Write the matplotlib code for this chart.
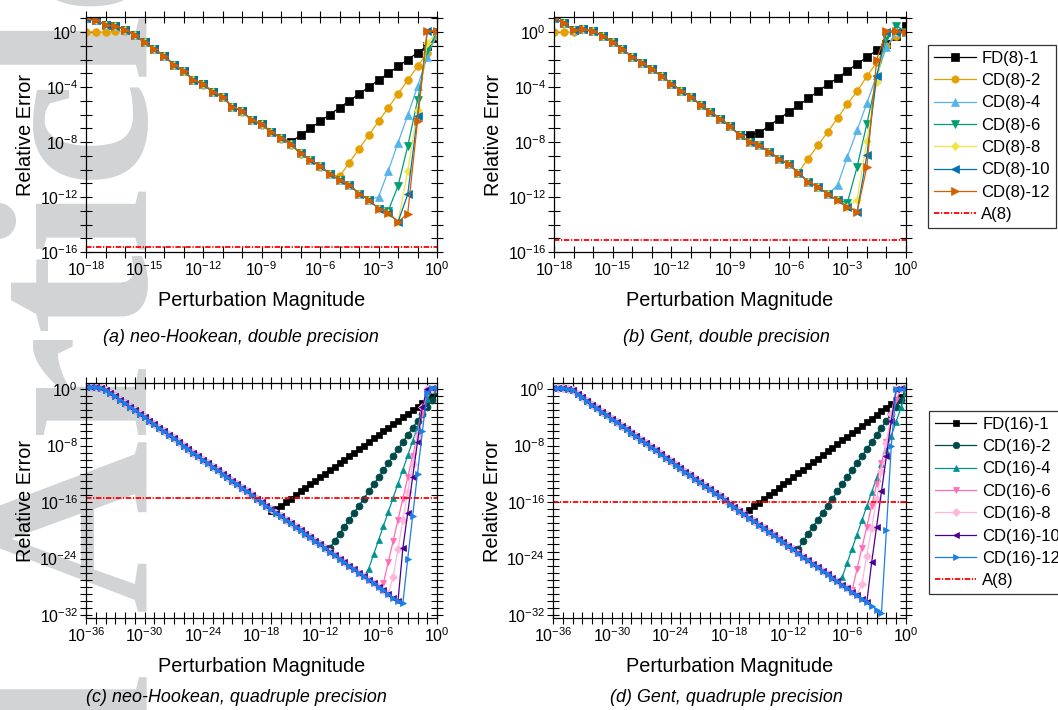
import matplotlib
matplotlib.use("Agg")
import matplotlib.pyplot as plt
from matplotlib.ticker import FixedLocator, FuncFormatter, NullLocator
import math

plt.rcParams['font.family'] = ['Liberation Sans', 'DejaVu Sans']
plt.rcParams['mathtext.default'] = 'regular'

# log10 of the perturbation magnitude
H_DBL = [-18.0, -17.5, -17.0, -16.5, -16.0, -15.5, -15.0, -14.5, -14.0, -13.5,
         -13.0, -12.5, -12.0, -11.5, -11.0, -10.5, -10.0, -9.5, -9.0, -8.5,
         -8.0, -7.5, -7.0, -6.5, -6.0, -5.5, -5.0, -4.5, -4.0, -3.5,
         -3.0, -2.5, -2.0, -1.5, -1.0, -0.5, 0.0]
H_QUAD = [-36.0, -35.5, -35.0, -34.5, -34.0, -33.5, -33.0, -32.5, -32.0, -31.5,
          -31.0, -30.5, -30.0, -29.5, -29.0, -28.5, -28.0, -27.5, -27.0, -26.5,
          -26.0, -25.5, -25.0, -24.5, -24.0, -23.5, -23.0, -22.5, -22.0, -21.5,
          -21.0, -20.5, -20.0, -19.5, -19.0, -18.5, -18.0, -17.5, -17.0, -16.5,
          -16.0, -15.5, -15.0, -14.5, -14.0, -13.5, -13.0, -12.5, -12.0, -11.5,
          -11.0, -10.5, -10.0, -9.5, -9.0, -8.5, -8.0, -7.5, -7.0, -6.5,
          -6.0, -5.5, -5.0, -4.5, -4.0, -3.5, -3.0, -2.5, -2.0, -1.5,
          -1.0, -0.5, 0.0]

# log10 of the relative error. Each *_BASE list is the highest-order scheme
# (whole curve); the other schemes share its round-off branch and only their
# own right-hand tail is listed.
NH_D_BASE = [1.0, 0.85, 0.54, 0.41, 0.17, -0.19, -0.75, -1.24, -1.72, -2.38,
             -2.82, -3.47, -3.8, -4.33, -4.7, -5.43, -5.74, -6.4, -6.7, -7.25,
             -7.7, -8.15, -8.83, -9.27, -9.76, -10.29, -10.78, -11.1, -11.75, -12.19,
             -12.85, -13.14, -13.82, -13.2, -6.5, 0.1, 0.1]
NH_D_FD = [-8.0, -7.5, -7.0, -6.5, -6.0, -5.5, -5.0, -4.5, -4.0, -3.5,
           -3.0, -2.5, -2.0, -1.5, -1.0, -0.45]
NH_D_CD2 = [0.0, 0.0, 0.0, 0.05, 0.1, -0.2, -0.75, -1.25, -1.75, -2.4,
            -2.85, -3.5, -3.85, -4.35, -4.75, -5.45, -5.8, -6.4, -6.75, -7.3,
            -7.75, -8.2, -8.85, -9.3, -9.8, -10.3, -10.5, -9.5, -8.5, -7.5,
            -6.5, -5.5, -4.5, -3.5, -2.5, -1.5, -0.3]
NH_D_CD4 = [-12.0, -10.1, -8.05, -6.05, -3.95, -1.8, -0.1]
NH_D_CD6 = [-13.0, -11.2, -8.3, -4.96, -1.3, 0.0]
NH_D_CD8 = [-10.1, -5.7, -0.8, 0.0]
NH_D_CD10 = [-11.8, -6.1, 0.1, 0.05]
NH_D_A8 = -15.6

GT_D_BASE = [1.0, 0.65, 0.15, 0.2, 0.05, -0.25, -0.75, -1.25, -1.8, -2.25,
             -2.7, -3.2, -3.75, -4.25, -4.7, -5.3, -5.8, -6.3, -6.84, -7.5,
             -7.99, -8.23, -8.72, -9.2, -9.61, -10.22, -10.9, -11.26, -11.79, -12.23,
             -12.7, -13.07, -9.8, -2.0, 0.07, 0.07, 0.0]
GT_D_FD = [-7.45, -7.34, -6.8, -6.32, -5.81, -5.33, -4.82, -4.31, -3.8, -3.34,
           -2.81, -2.32, -1.82, -1.33, -0.85, -0.3, 0.48]
GT_D_CD2 = [0.0, 0.0, 0.0, 0.2, 0.05, -0.25, -0.75, -1.25, -1.8, -2.25,
            -2.7, -3.2, -3.75, -4.25, -4.7, -5.3, -5.8, -6.3, -6.84, -7.5,
            -7.99, -8.23, -8.72, -9.2, -9.61, -10.22, -9.2, -8.23, -7.26, -6.25,
            -5.25, -4.29, -3.22, -2.2, -1.04, -0.25, 0.0]
GT_D_CD4 = [-11.14, -9.08, -7.14, -5.16, -3.15, -1.1, 0.0, 0.0]
GT_D_CD6 = [-12.42, -9.8, -6.66, -3.4, -0.4, 0.48, 0.0]
GT_D_CD8 = [-12.18, -7.92, -3.63, 0.0, 0.0, 0.0]
GT_D_CD10 = [-8.96, -3.22, 0.0, 0.0, 0.0]
GT_D_A8 = -15.1

NH_Q_BASE = [0.3, 0.3, 0.25, 0.1, -0.2, -0.6, -1.0, -1.5, -2.0, -2.5,
             -3.0, -3.5, -4.0, -4.5, -5.0, -5.5, -6.0, -6.5, -7.0, -7.5,
             -8.0, -8.5, -9.0, -9.5, -10.0, -10.5, -11.0, -11.5, -12.0, -12.5,
             -13.0, -13.5, -14.0, -14.5, -15.0, -15.5, -16.0, -16.5, -17.0, -17.5,
             -18.0, -18.5, -19.0, -19.5, -20.0, -20.5, -21.0, -21.5, -22.0, -22.5,
             -23.0, -23.5, -24.0, -24.5, -25.0, -25.5, -26.0, -26.5, -27.0, -27.5,
             -28.0, -28.5, -29.0, -29.5, -30.0, -30.3, -24.0, -18.0, -12.0, -6.0,
             -0.5, 0.2, 0.2]
NH_Q_FD = [-17.3, -17.0, -16.5, -16.0, -15.5, -15.0, -14.5, -14.0, -13.5, -13.0,
           -12.5, -12.0, -11.5, -11.0, -10.5, -10.0, -9.5, -9.0, -8.5, -8.0,
           -7.5, -7.0, -6.5, -6.0, -5.5, -5.0, -4.5, -4.0, -3.5, -3.0,
           -2.5, -2.0, -1.5, -1.0, -0.5]
NH_Q_CD2 = [-22.5, -21.5, -20.5, -19.5, -18.5, -17.5, -16.5, -15.5, -14.5, -13.5,
            -12.5, -11.5, -10.5, -9.5, -8.5, -7.5, -6.5, -5.5, -4.5, -3.5,
            -2.5, -1.5, -0.3]
NH_Q_CD4 = [-25.4, -23.4, -21.4, -19.4, -17.4, -15.4, -13.4, -11.4, -9.4, -7.4,
            -5.4, -3.4, -1.4, -0.2, 0.0]
NH_Q_CD6 = [-27.5, -24.5, -21.5, -18.5, -15.5, -12.5, -9.5, -6.5, -3.5, -0.5,
            0.0, 0.0]
NH_Q_CD8 = [-26.6, -22.6, -18.6, -14.6, -10.6, -6.6, -2.6, 0.0, 0.0, 0.0]
NH_Q_CD10 = [-22.5, -17.5, -12.5, -7.5, -2.5, 0.0, 0.1, 0.1]
NH_Q_A8 = -15.4

GT_Q_BASE = [0.1, 0.1, 0.1, 0.05, -0.1, -0.7, -1.2, -1.7, -2.2, -2.7,
             -3.2, -3.7, -4.2, -4.7, -5.2, -5.7, -6.2, -6.7, -7.2, -7.7,
             -8.2, -8.7, -9.2, -9.7, -10.2, -10.7, -11.2, -11.7, -12.2, -12.7,
             -13.2, -13.7, -14.2, -14.7, -15.2, -15.7, -16.2, -16.7, -17.2, -17.7,
             -18.2, -18.7, -19.2, -19.7, -20.2, -20.7, -21.2, -21.7, -22.2, -22.7,
             -23.2, -23.7, -24.2, -24.7, -25.2, -25.7, -26.2, -26.7, -27.2, -27.7,
             -28.2, -28.7, -29.2, -29.7, -30.2, -30.7, -31.2, -31.7, -20.0, -8.0,
             0.0, 0.0, 0.0]
GT_Q_FD = [-17.1, -16.58, -16.07, -15.55, -15.03, -14.52, -14.0, -13.48, -12.97, -12.45,
           -11.93, -11.42, -10.9, -10.38, -9.87, -9.35, -8.83, -8.32, -7.8, -7.28,
           -6.77, -6.25, -5.73, -5.22, -4.7, -4.18, -3.67, -3.15, -2.63, -2.12,
           -1.6, -1.08, -0.6]
GT_Q_CD2 = [-22.7, -21.5, -20.5, -19.5, -18.5, -17.5, -16.5, -15.5, -14.5, -13.5,
            -12.5, -11.5, -10.5, -9.5, -8.5, -7.5, -6.5, -5.5, -4.5, -3.5,
            -2.5, -1.5, -0.3]
GT_Q_CD4 = [-26.6, -24.6, -22.6, -20.6, -18.6, -16.6, -14.6, -12.6, -10.6, -8.6,
            -6.6, -4.6, -2.6, -0.4]
GT_Q_CD6 = [-28.5, -25.5, -22.5, -19.5, -16.5, -13.5, -10.5, -7.5, -4.5, -1.5,
            0.0, 0.0]
GT_Q_CD8 = [-27.6, -23.6, -19.6, -15.6, -11.6, -7.6, -3.6, 0.0, 0.0, 0.0]
GT_Q_CD10 = [-24.5, -19.5, -14.5, -9.5, -4.5, 0.0, 0.1, 0.1]
GT_Q_A8 = -16.0

DBL_LABELS = ['FD(8)-1', 'CD(8)-2', 'CD(8)-4', 'CD(8)-6', 'CD(8)-8', 'CD(8)-10', 'CD(8)-12']
QUAD_LABELS = ['FD(16)-1', 'CD(16)-2', 'CD(16)-4', 'CD(16)-6', 'CD(16)-8', 'CD(16)-10', 'CD(16)-12']
DBL_COLORS = ['#000000', '#E69F00', '#56B4E9', '#009E73', '#F0E442', '#0072B2', '#D55E00']
QUAD_COLORS = ['#000000', '#004949', '#009292', '#FF6DB6', '#FFB6DB', '#490092', '#1A7FE6']
MARKERS = ['s', 'o', '^', 'v', 'D', '<', '>']


def branch(base, tail):
    return base[:len(base) - len(tail)] + tail


def series(base, fd, cd2, cd4, cd6, cd8, cd10):
    return [branch(base, fd), branch(base, cd2), branch(base, cd4), branch(base, cd6),
            branch(base, cd8), branch(base, cd10), base]


def draw(ax, h, curves, a8, colors, labels, ms):
    hx = [10.0 ** v for v in h]
    handles = []
    for ys, c, m, lab in zip(curves, colors, MARKERS, labels):
        mk = ms * 0.8 if m == 'D' else ms
        ln, = ax.plot(hx, [10.0 ** v for v in ys], color=c, marker=m, ms=mk,
                      mec=c, mfc=c, mew=0.5, lw=0.9, label=lab)
        handles.append(ln)
    ln = ax.axhline(10.0 ** a8, color='#FF0000', lw=1.3, ls=(0, (3, 0.9, 0.7, 0.9)),
                    label='A(8)')
    handles.append(ln)
    return handles


def fmt(step):
    def f(v, p):
        k = int(round(math.log10(v)))
        return '$10^{%d}$' % k if k % step == 0 else ''
    return FuncFormatter(f)


def style(ax, xlo, ylim, xstep, ystep):
    ax.set_xscale('log')
    ax.set_yscale('log')
    ax.set_xlim(10.0 ** xlo, 1.0)
    ax.set_ylim(10.0 ** ylim[0], 10.0 ** ylim[1])
    ax.set_facecolor('none')
    ax.xaxis.set_major_locator(FixedLocator([10.0 ** k for k in range(xlo, 1)]))
    ylo = int(math.floor(ylim[0]))
    ax.yaxis.set_major_locator(FixedLocator([10.0 ** k for k in range(ylo, 2)]))
    ax.xaxis.set_major_formatter(fmt(xstep))
    ax.yaxis.set_major_formatter(fmt(ystep))
    ax.xaxis.set_minor_locator(NullLocator())
    ax.yaxis.set_minor_locator(NullLocator())
    ax.tick_params(which='major', direction='inout', length=8.5, width=0.8,
                   top=True, right=True, labelsize=11.5, pad=1.5)
    for s in ax.spines.values():
        s.set_linewidth(0.9)
    ax.set_xlabel('Perturbation Magnitude', fontsize=14.3, labelpad=9)
    ax.set_ylabel('Relative Error', fontsize=14.3, labelpad=3)


W, H = 1058, 710
fig = plt.figure(figsize=(W / 100, H / 100), dpi=100)

# faint journal watermark running up the left margin
wm_kw = dict(rotation=90, rotation_mode='anchor', va='baseline', fontsize=173,
             family='Liberation Serif', weight='bold', color='#D1D3D4', zorder=-5)
fig.text(145 / W, 1 - 611 / H, 'Article', ha='left', **wm_kw)
fig.text(145 / W, 1 - 671 / H, 'Accepted', ha='right', **wm_kw)


def rect(l, r, t, b):
    return [l / W, 1 - b / H, (r - l) / W, (b - t) / H]


ax_a = fig.add_axes(rect(86, 437, 17, 252))
ax_b = fig.add_axes(rect(554, 906, 17, 252))
ax_c = fig.add_axes(rect(86, 437, 383, 618))
ax_d = fig.add_axes(rect(553, 906, 383, 618))

draw(ax_a, H_DBL, series(NH_D_BASE, NH_D_FD, NH_D_CD2, NH_D_CD4, NH_D_CD6, NH_D_CD8, NH_D_CD10),
     NH_D_A8, DBL_COLORS, DBL_LABELS, 5.5)
hb = draw(ax_b, H_DBL, series(GT_D_BASE, GT_D_FD, GT_D_CD2, GT_D_CD4, GT_D_CD6, GT_D_CD8, GT_D_CD10),
          GT_D_A8, DBL_COLORS, DBL_LABELS, 5.5)
draw(ax_c, H_QUAD, series(NH_Q_BASE, NH_Q_FD, NH_Q_CD2, NH_Q_CD4, NH_Q_CD6, NH_Q_CD8, NH_Q_CD10),
     NH_Q_A8, QUAD_COLORS, QUAD_LABELS, 5.0)
hd = draw(ax_d, H_QUAD, series(GT_Q_BASE, GT_Q_FD, GT_Q_CD2, GT_Q_CD4, GT_Q_CD6, GT_Q_CD8, GT_Q_CD10),
          GT_Q_A8, QUAD_COLORS, QUAD_LABELS, 5.0)

style(ax_a, -18, (-16, 1.1), 3, 4)
style(ax_b, -18, (-16, 1.1), 3, 4)
style(ax_c, -36, (-32.4, 0.85), 6, 8)
style(ax_d, -36, (-32.4, 0.85), 6, 8)

leg_kw = dict(loc='upper left', bbox_transform=fig.transFigure, fontsize=12,
              frameon=True, fancybox=False, edgecolor='#333333', framealpha=1,
              handlelength=2.5, handletextpad=0.35, borderpad=0.35, labelspacing=0.44,
              borderaxespad=0, markerscale=0.95)
l1 = ax_b.legend(handles=hb, bbox_to_anchor=(928 / W, 1 - 45 / H), **leg_kw)
l2 = ax_d.legend(handles=hd, bbox_to_anchor=(929 / W, 1 - 411 / H), **leg_kw)
for lg in (l1, l2):
    lg.get_frame().set_linewidth(0.9)

cap_kw = dict(ha='center', va='center', fontsize=12.9, style='italic')
fig.text(240.5 / W, 1 - 337 / H, '(a) neo-Hookean, double precision', **cap_kw)
fig.text(726 / W, 1 - 337 / H, '(b) Gent, double precision', **cap_kw)
fig.text(236 / W, 1 - 698 / H, '(c) neo-Hookean, quadruple precision', **cap_kw)
fig.text(726 / W, 1 - 698 / H, '(d) Gent, quadruple precision', **cap_kw)

fig.savefig('out.png', dpi=100)
